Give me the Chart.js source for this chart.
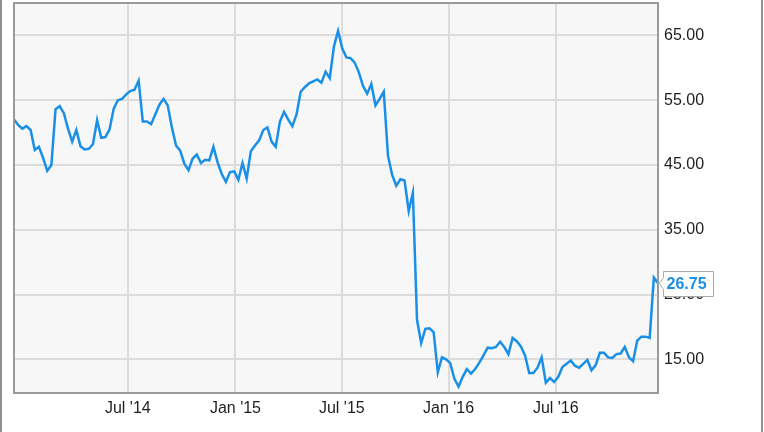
<!DOCTYPE html>
<html>
<head>
<meta charset="utf-8">
<title>Weekly close</title>
<script src="https://cdn.jsdelivr.net/npm/chart.js@4.4.1/dist/chart.umd.min.js"></script>
<style>
  html, body { margin: 0; padding: 0; background: #fff; }
  #wrap { position: relative; width: 764px; height: 432px; }
</style>
</head>
<body>
<div id="wrap"><canvas id="price-chart"></canvas></div>
<script>
// weekly closes, first point is mid-Dec 2013
const prices = [
  52.0, 51.2, 50.6, 51.0, 50.4, 47.3, 47.8, 46.1, 44.1, 45.0,
  53.6, 54.1, 53.0, 50.6, 48.6, 50.4, 47.9, 47.4, 47.5, 48.2,
  51.9, 49.2, 49.3, 50.5, 53.7, 55.0, 55.2, 55.9, 56.4, 56.6,
  58.0, 51.7, 51.7, 51.3, 52.8, 54.3, 55.2, 54.2, 50.8, 48.0,
  47.2, 45.2, 44.2, 46.0, 46.6, 45.3, 45.8, 45.7, 47.8, 45.4,
  43.6, 42.4, 43.9, 44.0, 42.7, 45.3, 42.9, 47.1, 48.0, 48.8,
  50.4, 50.8, 48.6, 47.8, 51.7, 53.2, 52.0, 51.0, 52.8, 56.3,
  57.0, 57.6, 57.9, 58.2, 57.7, 59.4, 58.4, 63.3, 65.7, 63.0,
  61.6, 61.5, 60.8, 59.3, 57.2, 56.0, 57.5, 54.2, 55.2, 56.3,
  46.5, 43.5, 41.8, 42.8, 42.6, 37.9, 40.7, 21.1, 17.5, 19.7,
  19.8, 19.2, 13.0, 15.3, 15.0, 14.4, 12.0, 10.8, 12.3, 13.5,
  12.8, 13.5, 14.5, 15.6, 16.8, 16.7, 16.9, 17.7, 16.9, 15.8,
  18.3, 17.8, 17.0, 15.6, 12.9, 12.9, 13.7, 15.3, 11.4, 12.1,
  11.5, 12.3, 13.8, 14.3, 14.8, 14.0, 13.7, 14.3, 14.9, 13.3,
  14.1, 16.0, 16.0, 15.3, 15.2, 15.8, 15.9, 16.9, 15.3, 14.7,
  17.9, 18.5, 18.5, 18.3, 27.6, 26.75
];

// tick positions in weeks from the first point
const xTickWeeks = [27.4, 53.3, 78.9, 104.6, 130.4];
const xTickLabels = ["Jul '14", "Jan '15", "Jul '15", "Jan '16", "Jul '16"];
const yTicks = [15, 25, 35, 45, 55, 65];

const LINE_BLUE = '#1a8fe6';
const FONT = { family: "'Liberation Sans', Arial, sans-serif", size: 16 };

// ── plot background, frame and last-price tag ─────────────────
const framePlugin = {
  id: 'frame',
  beforeDraw(chart) {
    const { ctx, chartArea: a } = chart;
    ctx.save();
    ctx.fillStyle = '#f7f7f7';
    ctx.fillRect(a.left, a.top, a.width, a.height);
    ctx.restore();
  },
  afterDatasetsDraw(chart) {
    const { ctx, chartArea: a } = chart;
    ctx.save();
    ctx.strokeStyle = '#9a9a9a';
    ctx.lineWidth = 2;
    ctx.strokeRect(a.left, a.top, a.width, a.height);
    ctx.restore();
  },
  afterDraw(chart) {
    const { ctx, chartArea: a } = chart;
    ctx.save();
    // side rules of the whole picture
    ctx.fillStyle = '#909090';
    ctx.fillRect(0, 0, 2, chart.height);
    ctx.fillRect(chart.width - 3, 0, 2, chart.height);

    const last = prices[prices.length - 1];
    const y = Math.round(chart.scales.y.getPixelForValue(last)) + 0.5;
    const tipX = a.right + 1.5;
    const left = tipX + 4, right = left + 50;
    const top = y - 12, bottom = y + 13;

    ctx.beginPath();
    ctx.moveTo(left, top);
    ctx.lineTo(right, top);
    ctx.lineTo(right, bottom);
    ctx.lineTo(left, bottom);
    ctx.lineTo(left, y + 6);
    ctx.lineTo(tipX, y);
    ctx.lineTo(left, y - 6);
    ctx.closePath();
    ctx.fillStyle = '#ffffff';
    ctx.fill();
    ctx.strokeStyle = '#a8a8a8';
    ctx.lineWidth = 1;
    ctx.stroke();

    ctx.fillStyle = LINE_BLUE;
    ctx.font = `bold 16px ${FONT.family}`;
    ctx.textAlign = 'left';
    ctx.textBaseline = 'middle';
    ctx.fillText(last.toFixed(2), left + 3, y + 1);
    ctx.restore();
  }
};

const ctx = document.getElementById('price-chart').getContext('2d');
new Chart(ctx, {
  type: 'line',
  data: {
    datasets: [{
      data: prices.map((v, i) => ({ x: i, y: v })),
      borderColor: LINE_BLUE,
      borderWidth: 2.5,
      pointRadius: 0,
      fill: false,
      tension: 0
    }]
  },
  options: {
    responsive: true,
    maintainAspectRatio: false,
    animation: false,
    layout: { padding: { left: 14, top: 3, right: 0, bottom: 0 } },
    plugins: { legend: { display: false }, tooltip: { enabled: false } },
    scales: {
      x: {
        type: 'linear',
        min: 0,
        max: prices.length - 1,
        afterBuildTicks: (s) => { s.ticks = xTickWeeks.map(v => ({ value: v })); },
        afterFit: (s) => { s.height = 39; s.paddingLeft = 0; s.paddingRight = 0; },
        ticks: {
          callback: (v, i) => xTickLabels[i],
          autoSkip: false,
          maxRotation: 0,
          color: '#1e1e1e',
          font: FONT,
          padding: 6
        },
        grid: { color: '#dcdcdc', lineWidth: 2, drawTicks: false },
        border: { display: false }
      },
      y: {
        position: 'right',
        min: 9.8,
        max: 70,
        afterBuildTicks: (s) => { s.ticks = yTicks.map(v => ({ value: v })); },
        afterFit: (s) => { s.width = 106; s.paddingTop = 0; s.paddingBottom = 0; },
        ticks: {
          callback: (v) => Number(v).toFixed(2),
          color: '#1e1e1e',
          font: FONT,
          padding: 6
        },
        grid: { color: '#dcdcdc', lineWidth: 2, drawTicks: false },
        border: { display: false }
      }
    }
  },
  plugins: [framePlugin]
});
</script>
</body>
</html>
